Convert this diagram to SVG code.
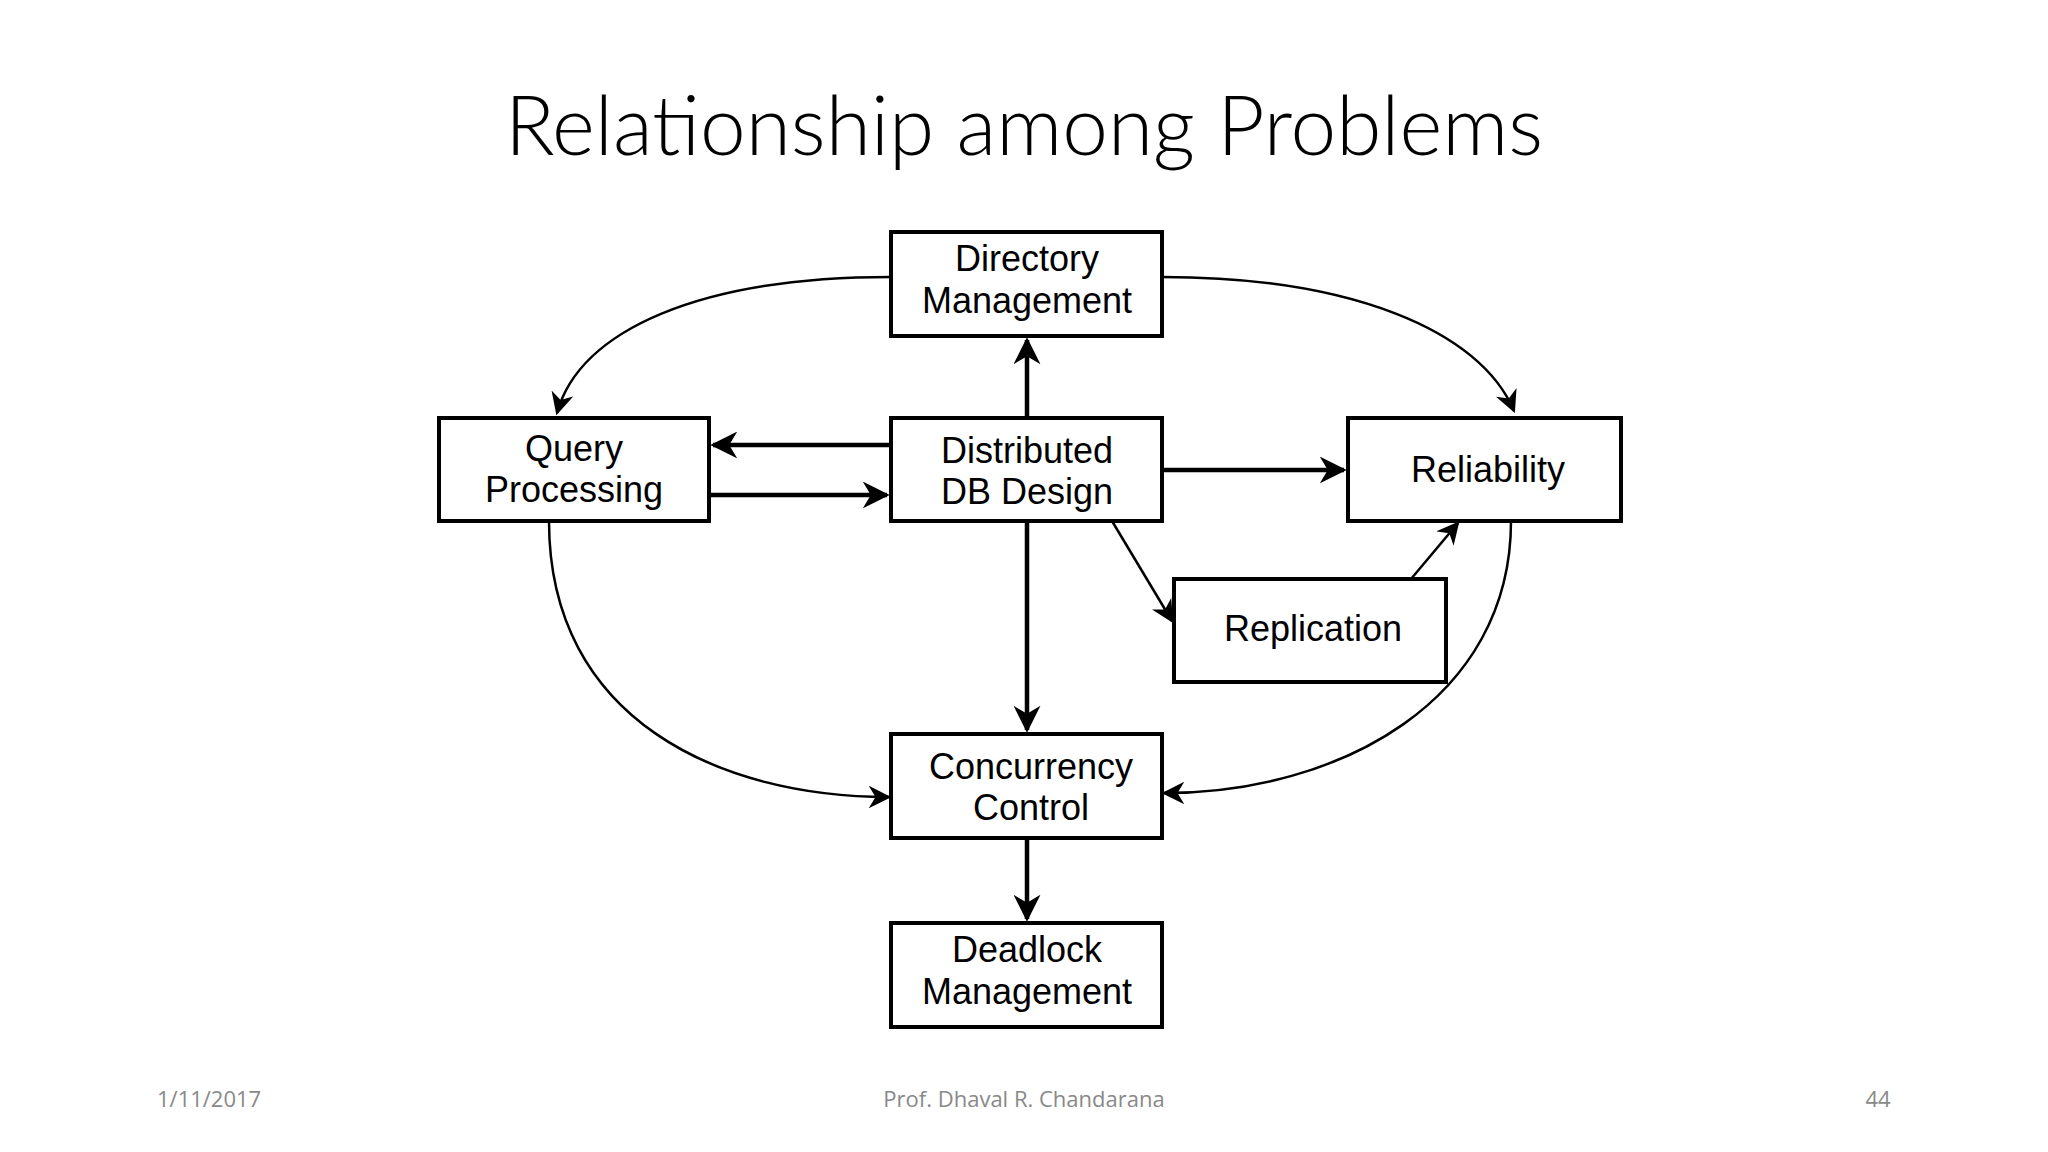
<svg xmlns="http://www.w3.org/2000/svg" width="2048" height="1152" viewBox="0 0 2048 1152">
<style>
.box{fill:#fff;stroke:#000;stroke-width:4}
.t{font-family:"Liberation Sans",Arial,sans-serif;font-size:36px;text-anchor:middle;fill:#000}
.thick{stroke:#000;stroke-width:4.5;fill:none}
.thin{stroke:#000;stroke-width:2.5;fill:none}
.f{font-family:"Open Sans","Liberation Sans",sans-serif;font-size:22px;fill:#898989}
</style>
<defs>
<marker id="a" viewBox="0 0 10 10" refX="9" refY="5" markerWidth="6" markerHeight="6" markerUnits="strokeWidth" orient="auto"><path d="M0,0L10,5L0,10L3,5z" fill="#000"/></marker>
<marker id="b" viewBox="0 0 10 10" refX="9" refY="5" markerWidth="9" markerHeight="9" markerUnits="strokeWidth" orient="auto"><path d="M0,0L10,5L0,10L3,5z" fill="#000"/></marker>
</defs>
<rect width="2048" height="1152" fill="#fff"/>
<text x="1024" y="155" font-family="Lato,'Open Sans',sans-serif" font-weight="300" font-size="82" text-anchor="middle" fill="#000">Relationship among Problems</text>
<g id="connectors">
<path class="thick" d="M1027,418V340" marker-end="url(#a)"/>
<path class="thick" d="M891,445H713" marker-end="url(#a)"/>
<path class="thick" d="M709,495H887" marker-end="url(#a)"/>
<path class="thick" d="M1162,470H1344" marker-end="url(#a)"/>
<path class="thick" d="M1027,521V730" marker-end="url(#a)"/>
<path class="thick" d="M1027,838V919" marker-end="url(#a)"/>
<path class="thin" d="M1112,521L1172,621" marker-end="url(#b)"/>
<path class="thin" d="M1411,579L1458,523" marker-end="url(#b)"/>
<path class="thin" d="M891,277C700,277 580,330 557,413" marker-end="url(#b)"/>
<path class="thin" d="M1162,277C1350,277 1480,330 1514,411" marker-end="url(#b)"/>
<path class="thin" d="M549,521C549,720 720,797 889,797" marker-end="url(#b)"/>
<path class="thin" d="M1511,521C1511,700 1340,793 1164,793" marker-end="url(#b)"/>
</g>
<g id="dm"><rect class="box" x="891" y="232" width="271" height="104"/><text class="t" x="1027" y="271">Directory</text><text class="t" x="1027" y="313">Management</text></g>
<g id="qp"><rect class="box" x="439" y="418" width="270" height="103"/><text class="t" x="574" y="461">Query</text><text class="t" x="574" y="502">Processing</text></g>
<g id="ddb"><rect class="box" x="891" y="418" width="271" height="103"/><text class="t" x="1027" y="463">Distributed</text><text class="t" x="1027" y="504">DB Design</text></g>
<g id="rel"><rect class="box" x="1348" y="418" width="273" height="103"/><text class="t" x="1488" y="482">Reliability</text></g>
<g id="rep"><rect class="box" x="1174" y="579" width="272" height="103"/><text class="t" x="1313" y="641">Replication</text></g>
<g id="cc"><rect class="box" x="891" y="734" width="271" height="104"/><text class="t" x="1031" y="779">Concurrency</text><text class="t" x="1031" y="820">Control</text></g>
<g id="dl"><rect class="box" x="891" y="923" width="271" height="104"/><text class="t" x="1027" y="962">Deadlock</text><text class="t" x="1027" y="1004">Management</text></g>
<text class="f" x="157" y="1107">1/11/2017</text>
<text class="f" x="1024" y="1107" text-anchor="middle">Prof. Dhaval R. Chandarana</text>
<text class="f" x="1878" y="1107" text-anchor="middle">44</text>
</svg>
